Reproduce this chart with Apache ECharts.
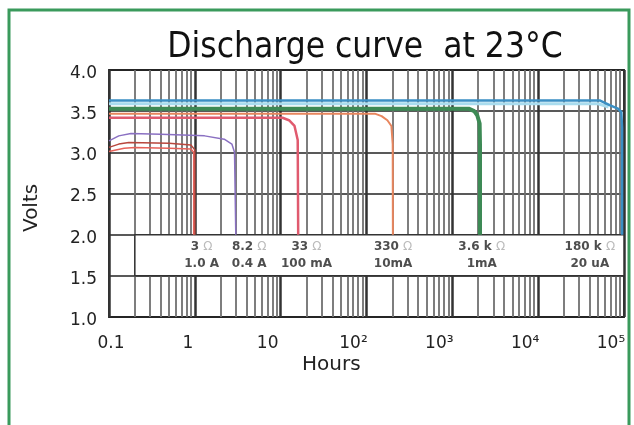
<!DOCTYPE html>
<html>
<head>
<meta charset="utf-8">
<script src="https://cdn.jsdelivr.net/npm/echarts@6/dist/echarts.min.js"></script>
<style>
	html, body { margin: 0; padding: 0; background: #ffffff; }
	#chart { width: 634px; height: 425px; }
</style>
</head>
<body>
<div id="chart"></div>
<script>
// x ticks (hours, log axis)
var tickLabels = ['0.1', '1', '10', '10²', '10³', '10⁴', '10⁵'];
var decades = [0.1, 1, 10, 100, 1000, 10000];
var minorSteps = [2, 3, 4, 5, 6, 7, 8, 9];

// discharge curves: [hours, volts]
var load180k = [[0.1, 3.63], [52000, 3.63], [69000, 3.57], [85000, 3.53], [93000, 3.49], [95000, 3.3], [95000, 2.0]];
var load180kGlow = [[0.1, 3.59], [50000, 3.59], [66000, 3.55]];
var load3k6 = [[0.1, 3.53], [1550, 3.53], [1800, 3.5], [1950, 3.45], [2080, 3.35], [2100, 3.1], [2100, 2.0]];
var load330 = [[0.1, 3.47], [125, 3.47], [150, 3.44], [175, 3.39], [195, 3.32], [202, 3.1], [203, 2.0]];
var load33 = [[0.1, 3.42], [10.5, 3.42], [12.5, 3.39], [14.5, 3.32], [15.8, 3.15], [16, 2.0]];
var load8r2 = [[0.1, 3.14], [0.13, 3.2], [0.18, 3.23], [0.4, 3.22], [1.3, 3.2], [2.2, 3.16], [2.7, 3.1], [2.9, 3.0], [3.0, 2.0]];
var load3a = [[0.1, 3.06], [0.13, 3.1], [0.17, 3.12], [0.5, 3.11], [0.9, 3.09], [1.0, 3.03], [1.0, 2.0]];
var load3b = [[0.1, 3.01], [0.15, 3.05], [0.2, 3.06], [0.5, 3.05], [0.9, 3.04], [0.97, 3.0], [0.97, 2.0]];

// labels in the white band
var loadNames = ['3', '8.2', '33', '330', '3.6 k', '180 k'];
var loadCurrents = ['1.0 A', '0.4 A', '100 mA', '10mA', '1mA', '20 uA'];
var loadLabelHours = [1.2, 4.3, 20, 204, 2200, 40000];

var minorLines = [];
for (var i = 0; i < decades.length; i++) {
	for (var j = 0; j < minorSteps.length; j++) {
		minorLines.push({ xAxis: decades[i] * minorSteps[j] });
	}
}

var bandLabels = [];
for (var k = 0; k < loadNames.length; k++) {
	bandLabels.push({ value: [loadLabelHours[k], 1.75], name: loadNames[k], current: loadCurrents[k] });
}

function curve(data, color, width, z) {
	return {
		type: 'line',
		data: data,
		showSymbol: false,
		symbol: 'none',
		silent: true,
		z: z,
		lineStyle: { color: color, width: width }
	};
}

var myChart = echarts.init(document.getElementById('chart'));
myChart.setOption({
	animation: false,
	title: {
		text: 'Discharge curve  at 23°C',
		left: 360,
		top: 25,
		textAlign: 'center',
		textStyle: {
			fontFamily: 'DejaVu Sans Condensed',
			fontSize: 35,
			fontWeight: 'normal',
			color: '#111'
		}
	},
	grid: {
		left: 109,
		right: 10,
		top: 70,
		height: 247,
		show: true,
		borderColor: '#333',
		borderWidth: 2
	},
	xAxis: {
		type: 'log',
		logBase: 10,
		min: 0.1,
		max: 100000,
		axisLine: { show: false },
		axisTick: { show: false },
		splitLine: { show: true, lineStyle: { color: '#333', width: 2.5 } },
		axisLabel: {
			margin: 18,
			fontFamily: 'DejaVu Sans',
			fontSize: 17,
			color: '#222',
			formatter: function (v) {
				var idx = Math.round(Math.log10(v)) + 1;
				var style = idx === 0 ? 'a' : (idx === 1 ? 'c' : 'b');
				return '{' + style + '|' + tickLabels[idx] + '}';
			},
			rich: {
				a: { fontFamily: 'DejaVu Sans', fontSize: 17, color: '#222', padding: [0, 0, 0, 4] },
				b: { fontFamily: 'DejaVu Sans', fontSize: 17, color: '#222', padding: [0, 26, 0, 0] },
				c: { fontFamily: 'DejaVu Sans', fontSize: 17, color: '#222', padding: [0, 14, 0, 0] }
			}
		}
	},
	yAxis: {
		type: 'value',
		min: 1.0,
		max: 4.0,
		interval: 0.5,
		axisLine: { show: false },
		axisTick: { show: false },
		splitLine: { show: true, lineStyle: { color: '#222', width: 1.5 } },
		axisLabel: {
			margin: 12,
			formatter: function (v) { return '{v|' + v.toFixed(1) + '}'; },
			rich: {
				v: { fontFamily: 'DejaVu Sans', fontSize: 17, color: '#222', padding: [7, 0, 0, 0] }
			}
		}
	},
	graphic: [
		{
			type: 'rect',
			shape: { x: 9, y: 10, width: 620, height: 440 },
			style: { fill: 'none', stroke: '#3a9a5c', lineWidth: 3 },
			silent: true
		},
		{
			type: 'text',
			left: 302,
			top: 355,
			style: { text: 'Hours', fontFamily: 'DejaVu Sans', fontSize: 20, fill: '#222' }
		},
		{
			type: 'text',
			x: 22,
			y: 232,
			rotation: Math.PI / 2,
			style: { text: 'Volts', fontFamily: 'DejaVu Sans', fontSize: 20, fill: '#222' }
		}
	],
	series: [
		{
			// minor log grid
			type: 'line',
			data: [],
			silent: true,
			z: 1,
			markLine: {
				z: 1,
				silent: true,
				symbol: ['none', 'none'],
				label: { show: false },
				lineStyle: { type: 'solid', color: '#707070', width: 1.8 },
				data: minorLines
			}
		},
		{
			// white legend band
			type: 'line',
			data: [],
			silent: true,
			z: 2,
			markArea: {
				z: 3,
				silent: true,
				itemStyle: { color: '#ffffff', borderColor: '#333', borderWidth: 1.5 },
				data: [[{ xAxis: 0.2, yAxis: 1.5 }, { xAxis: 100000, yAxis: 2.0 }]]
			}
		},
		curve(load180kGlow, '#a9dcee', 3, 4),
		curve(load180k, '#3a8fc4', 2.5, 4),
		curve(load3k6, '#3d8a55', 4, 4),
		curve(load330, '#e8865e', 2, 4),
		curve(load33, '#e05a6e', 2.5, 4),
		curve(load8r2, '#8a70c2', 1.5, 4),
		curve(load3a, '#b8473d', 1.5, 4),
		curve(load3b, '#e6625a', 1.5, 4),
		{
			type: 'scatter',
			data: bandLabels,
			symbolSize: 0,
			silent: true,
			z: 6,
			label: {
				show: true,
				position: 'inside',
				align: 'center',
				lineHeight: 17,
				formatter: function (p) {
					return '{n|' + p.data.name + ' }{o|Ω}\n{n|' + p.data.current + '}';
				},
				rich: {
					n: { fontFamily: 'DejaVu Sans', fontSize: 12, fontWeight: 'bold', color: '#222', lineHeight: 17 },
					o: { fontFamily: 'DejaVu Sans', fontSize: 12, color: '#aaaaaa', lineHeight: 17 }
				}
			}
		}
	]
});
</script>
</body>
</html>
